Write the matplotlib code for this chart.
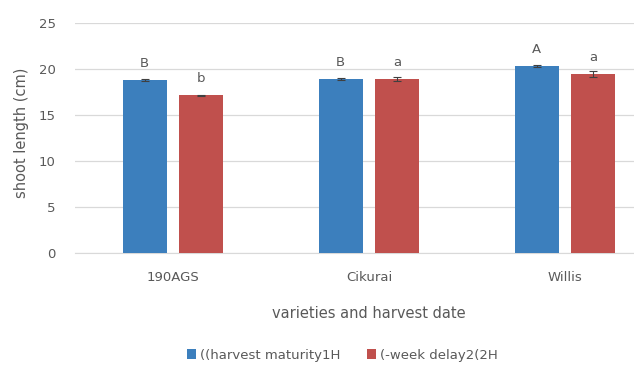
import matplotlib.pyplot as plt
import numpy as np

varieties = ["190AGS", "Cikurai", "Willis"]
series_names = ["((harvest maturity1H", "(-week delay2(2H"]
maturity = [18.8, 18.9, 20.3]
delay = [17.1, 18.9, 19.4]
maturity_err = [0.1, 0.1, 0.1]
delay_err = [0.05, 0.25, 0.3]
maturity_letters = ["B", "B", "A"]
delay_letters = ["b", "a", "a"]

blue = "#3c7fbd"
red = "#c0504d"
grey = "#595959"

fig = plt.figure(figsize=(6.34, 3.66), dpi=100)
ax = fig.add_axes([75 / 634, 0.309, 588 / 634, 0.629])

x = np.arange(len(varieties))
w = 0.224
off = 0.145

b1 = ax.bar(x - off, maturity, w, color=blue, yerr=maturity_err,
            error_kw=dict(ecolor="#404040", elinewidth=0.8, capsize=3, capthick=0.8),
            label=series_names[0], zorder=3)
b2 = ax.bar(x + off, delay, w, color=red, yerr=delay_err,
            error_kw=dict(ecolor="#404040", elinewidth=0.8, capsize=3, capthick=0.8),
            label=series_names[1], zorder=3)

for i in range(len(varieties)):
    ax.text(x[i] - off, maturity[i] + 1.8, maturity_letters[i], ha="center",
            va="center", fontsize=9.5, color=grey)
    ax.text(x[i] + off, delay[i] + 1.8, delay_letters[i], ha="center",
            va="center", fontsize=9.5, color=grey)

ax.set_xlim(-0.5, 2.5)
ax.set_ylim(0, 25)
ax.set_yticks([0, 5, 10, 15, 20, 25])
ax.yaxis.grid(True, color="#d9d9d9", linewidth=0.9, zorder=0)
ax.set_axisbelow(True)
for s in ["top", "right", "left"]:
    ax.spines[s].set_visible(False)
ax.spines["bottom"].set_color("#d9d9d9")
ax.tick_params(length=0, colors=grey, labelsize=9.5)
ax.tick_params(axis="x", pad=13)
ax.tick_params(axis="y", pad=14)
ax.set_xticks(x)
ax.set_xticklabels(varieties)

ax.set_ylabel("shoot length (cm)", fontsize=10.5, color=grey)
ax.yaxis.set_label_coords(-46 / 588, 0.52)
fig.text(369 / 634, 1 - 313 / 366, "varieties and harvest date", ha="center",
         va="center", fontsize=10.5, color=grey)

fig.legend(handles=[b1, b2], loc="center", bbox_to_anchor=(0.54, 0.03), ncol=2,
           frameon=False, fontsize=9.5, labelcolor=grey, handlelength=0.7,
           handleheight=0.7, handletextpad=0.3, columnspacing=2.0)

fig.savefig("out.png", dpi=100)
